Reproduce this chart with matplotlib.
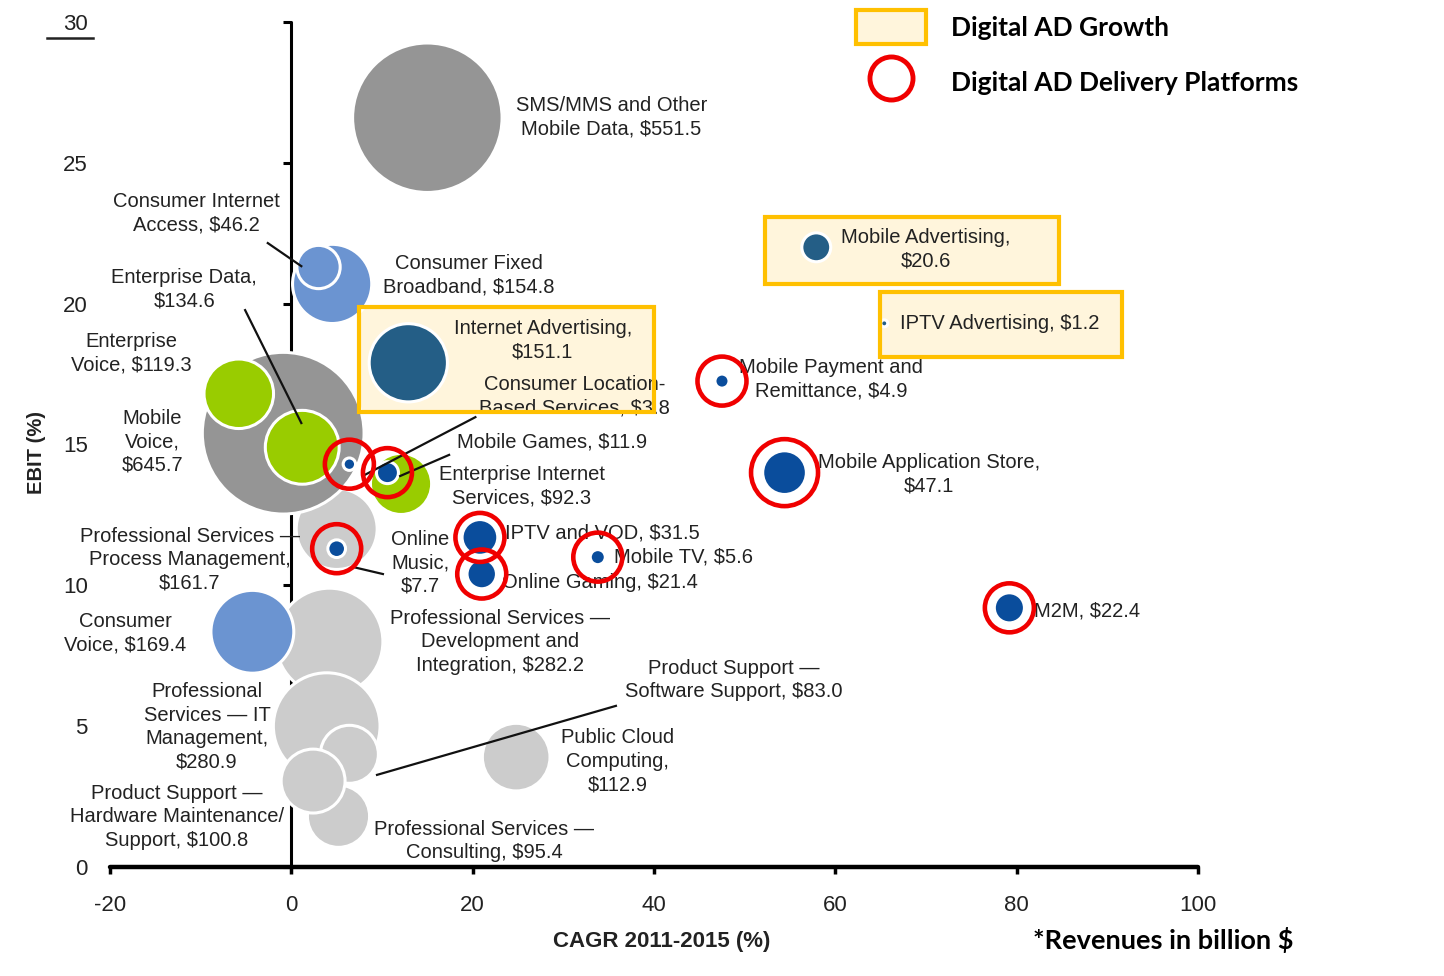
import numpy as np
import matplotlib.pyplot as plt
from matplotlib.patches import Rectangle, Patch
from matplotlib.lines import Line2D

plt.rcParams['font.family'] = ['Liberation Sans', 'DejaVu Sans']
plt.rcParams['axes.unicode_minus'] = False

# market segments, in drawing order (later ones sit on top)
names = [
    "Professional Services - Process Management", "Mobile Voice", "Enterprise Voice",
    "Enterprise Data", "Enterprise Internet Services", "Consumer Location-Based Services",
    "Mobile Games", "Online Music", "SMS/MMS and Other Mobile Data",
    "Consumer Fixed Broadband", "Consumer Internet Access",
    "Professional Services - Development and Integration", "Consumer Voice",
    "Professional Services - IT Management", "Product Support - Software Support",
    "Professional Services - Consulting", "Product Support - Hardware Maintenance/Support",
    "Public Cloud Computing", "Internet Advertising", "Mobile Advertising",
    "IPTV Advertising", "IPTV and VOD", "Online Gaming", "Mobile TV",
    "Mobile Payment and Remittance", "Mobile Application Store", "M2M",
]
cagr = [5.0, -0.9, -5.8, 1.2, 12.1, 6.4, 10.6, 5.0, 15.0, 4.5, 3.0, 4.2, -4.3,
        3.9, 6.4, 5.2, 2.4, 24.8, 12.9, 57.9, 65.4, 20.8, 21.0, 33.8, 47.5, 54.4, 79.2]
ebit = [12.0, 15.4, 16.8, 14.9, 13.6, 14.3, 14.0, 11.3, 26.6, 20.7, 21.3, 8.0, 8.35,
        5.0, 4.0, 1.8, 3.05, 3.9, 17.9, 22.0, 19.3, 11.7, 10.4, 11.0, 17.25, 14.0, 9.2]
revenue = [161.7, 645.7, 119.3, 134.6, 92.3, 3.8, 11.9, 7.7, 551.5, 154.8, 46.2, 282.2,
           169.4, 280.9, 83.0, 95.4, 100.8, 112.9, 151.1, 20.6, 1.2, 31.5, 21.4, 5.6,
           4.9, 47.1, 22.4]
segment = ["services", "mobile", "enterprise", "enterprise", "enterprise", "platform",
           "platform", "platform", "mobile", "consumer", "consumer", "services",
           "consumer", "services", "services", "services", "services", "services",
           "advert", "advert", "advert", "platform", "platform", "platform",
           "platform", "platform", "platform"]

labels = [
    "Professional Services \u2014\nProcess Management,\n$161.7", "Mobile\nVoice,\n$645.7",
    "Enterprise\nVoice, $119.3", "Enterprise Data,\n$134.6",
    "Enterprise Internet\nServices, $92.3", "Consumer Location-\nBased Services, $3.8",
    "Mobile Games, $11.9", "Online\nMusic,\n$7.7", "SMS/MMS and Other\nMobile Data, $551.5",
    "Consumer Fixed\nBroadband, $154.8", "Consumer Internet\nAccess, $46.2",
    "Professional Services \u2014\nDevelopment and\nIntegration, $282.2",
    "Consumer\nVoice, $169.4", "Professional\nServices \u2014 IT\nManagement,\n$280.9",
    "Product Support \u2014\nSoftware Support, $83.0",
    "Professional Services \u2014\nConsulting, $95.4",
    "Product Support \u2014\nHardware Maintenance/\nSupport, $100.8",
    "Public Cloud\nComputing,\n$112.9", "Internet Advertising,\n$151.1",
    "Mobile Advertising,\n$20.6", "IPTV Advertising, $1.2", "IPTV and VOD, $31.5",
    "Online Gaming, $21.4", "Mobile TV, $5.6", "Mobile Payment and\nRemittance, $4.9",
    "Mobile Application Store,\n$47.1", "M2M, $22.4",
]

# label placement (data units)
label_pos = [(-11.2, 10.9, "center"), (-15.35, 15.1, "center"), (-17.7, 18.25, "center"),
             (-11.8, 20.5, "center"), (25.4, 13.5, "center"), (31.2, 16.7, "center"),
             (28.75, 15.1, "center"), (14.2, 10.8, "center"), (35.3, 26.6, "center"),
             (19.6, 21.0, "center"), (-10.5, 23.2, "center"), (23.0, 8.0, "center"),
             (-18.3, 8.3, "center"), (-9.3, 4.97, "center"), (48.8, 6.64, "center"),
             (21.25, 0.92, "center"), (-12.6, 1.78, "center"), (36.0, 3.76, "center"),
             (27.75, 18.7, "center"), (70.0, 21.94, "center"), (78.1, 19.3, "center"),
             (23.55, 11.86, "left"), (23.2, 10.1, "left"), (35.6, 11.0, "left"),
             (59.5, 17.3, "center"), (70.3, 13.95, "center"), (81.9, 9.09, "left")]

leaders = [((-2.6, 22.15), (1.1, 21.33)), ((-5.1, 19.77), (1.1, 15.76)),
           ((20.3, 15.97), (8.1, 13.92)), ((17.4, 14.63), (12.0, 13.88)),
           ((10.1, 10.4), (6.8, 10.65)), ((35.8, 5.72), (9.45, 3.27))]

# highlight boxes around the digital AD growth segments (data units)
boxes = [(7.47, 16.15, 40.0, 19.88), (52.2, 20.7, 84.65, 23.07), (64.9, 18.1, 91.6, 20.4)]

colors = {"mobile": "#959595", "services": "#cccccc", "consumer": "#6b94d1",
          "enterprise": "#99cc00", "advert": "#245e86", "platform": "#0a4d9c"}
ring_px = {"Mobile Application Store": 67}
ring_red = "#f00000"
box_fill = "#fff5dc"
box_edge = "#ffc000"
txt = "#222222"
line_pt = 16.9  # line height of the bubble labels

fig = plt.figure(figsize=(14.44, 9.76), dpi=100)
fig.subplots_adjust(left=0.0762, right=0.8296, bottom=0.1117, top=0.9775)
ax = fig.add_subplot(111)

ax.scatter(cagr, ebit, s=np.array(revenue) * 21.0, c=[colors[g] for g in segment],
           edgecolors="white", linewidths=2.2, zorder=2, clip_on=False)

plat = [i for i, g in enumerate(segment) if g == "platform"]
ring_s = [(ring_px.get(names[i], 49) * 0.72) ** 2 for i in plat]
ax.scatter([cagr[i] for i in plat], [ebit[i] for i in plat], s=ring_s,
           facecolors="none", edgecolors=ring_red, linewidths=3.3, zorder=6, clip_on=False)

for x0, y0, x1, y1 in boxes:
    ax.add_patch(Rectangle((x0, y0), x1 - x0, y1 - y0, facecolor=box_fill,
                           edgecolor="none", zorder=1, clip_on=False))
    ax.add_patch(Rectangle((x0, y0), x1 - x0, y1 - y0, facecolor="none",
                           edgecolor=box_edge, lw=3, zorder=4, clip_on=False))

# each label line drawn on its own so the blocks stay compact
for lab, (lx, ly, ha) in zip(labels, label_pos):
    rows = lab.split("\n")
    mid = (len(rows) - 1) / 2
    for k, row in enumerate(rows):
        ax.annotate(row, (lx, ly), xytext=(0, (mid - k) * line_pt),
                    textcoords="offset points", ha=ha, va="center", fontsize=14.5,
                    color=txt, zorder=3, annotation_clip=False)

for (x0, y0), (x1, y1) in leaders:
    ax.plot([x0, x1], [y0, y1], color="#111111", lw=1.6, zorder=3.5, clip_on=False)

ax.set_xlim(-20, 100)
ax.set_ylim(0, 30)
ax.set_axisbelow(True)
for side in ["top", "right"]:
    ax.spines[side].set_visible(False)
ax.spines["left"].set_position(("data", 0))
ax.spines["left"].set_linewidth(2.2)
ax.spines["bottom"].set_linewidth(3.2)
for sp in ax.spines.values():
    sp.set_zorder(0.5)
    sp.set_capstyle("round")

ax.set_xticks(range(-20, 101, 20))
ax.set_yticks(range(0, 31, 5))
ax.tick_params(axis="x", direction="out", length=5, width=2.5, pad=15, labelsize=16,
               labelcolor=txt)
ax.tick_params(axis="y", direction="out", length=6, width=2.2, labelleft=False)

sec = ax.secondary_yaxis(0)
for sp in sec.spines.values():
    sp.set_visible(False)
sec.set_yticks(range(0, 31, 5))
sec.tick_params(length=0, pad=16, labelsize=16, labelcolor=txt)

ax.set_xlabel("CAGR 2011-2015 (%)", fontsize=16, fontweight="bold", labelpad=11, color=txt)
ax.xaxis.label.set_x(0.507)
fig.text(37 / 1444, 1 - 452 / 976, "EBIT (%)", rotation=90, ha="center", va="center",
         fontsize=14.5, fontweight="bold", color=txt)
fig.text(1033 / 1444, 1 - 940 / 976, "*Revenues in billion $", ha="left", va="center",
         fontsize=19.5, fontweight="bold", family="Lato", color="black")
fig.add_artist(Line2D([47 / 1444, 93 / 1444], [1 - 38 / 976] * 2, color=txt, lw=1.8))

handles = [Patch(facecolor=box_fill, edgecolor=box_edge, lw=3),
           Line2D([], [], marker="o", ls="none", mfc="none", mec=ring_red, ms=31, mew=3.5)]
ax.legend(handles, ["Digital AD Growth", "Digital AD Delivery Platforms"],
          loc="upper left", bbox_to_anchor=(856 / 1444, 1 - 10 / 976),
          bbox_transform=fig.transFigure, frameon=False, borderpad=0, borderaxespad=0,
          handlelength=2.65, handleheight=1.6, handletextpad=0.95, labelspacing=0.82,
          prop={"family": "Lato", "weight": "bold", "size": 19})

fig.savefig("out.png", dpi=100)
